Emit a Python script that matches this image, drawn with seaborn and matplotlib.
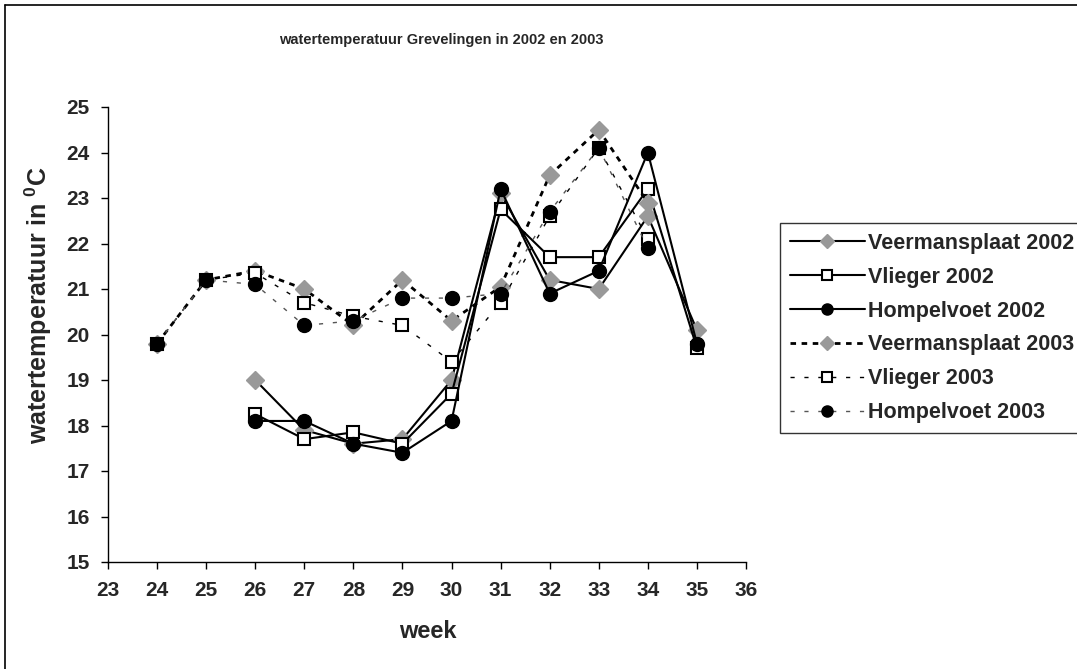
import numpy as np
import pandas as pd
import matplotlib
matplotlib.use("Agg")
import matplotlib.pyplot as plt
from matplotlib.lines import Line2D
from matplotlib import font_manager
import seaborn as sns

# ---- data ----
weeks_2002 = [26, 27, 28, 29, 30, 31, 32, 33, 34, 35]
veermans_2002 = [19.0, 17.9, 17.6, 17.7, 19.0, 23.1, 21.2, 21.0, 22.6, 20.1]
vlieger_2002 = [18.25, 17.7, 17.85, 17.6, 18.7, 22.75, 21.7, 21.7, 23.2, 19.7]
hompelvoet_2002 = [18.1, 18.1, 17.6, 17.4, 18.1, 23.2, 20.9, 21.4, 24.0, 19.8]

weeks_2003 = [24, 25, 26, 27, 28, 29, 30, 31, 32, 33, 34]
veermans_2003 = [19.8, 21.2, 21.4, 21.0, 20.2, 21.2, 20.3, 21.05, 23.5, 24.5, 22.9]
vlieger_2003 = [19.8, 21.2, 21.35, 20.7, 20.4, 20.2, 19.4, 20.7, 22.6, 24.1, 22.1]
hompelvoet_2003 = [19.8, 21.2, 21.1, 20.2, 20.3, 20.8, 20.8, 20.9, 22.7, 24.1, 21.9]

series_names = ["Veermansplaat 2002", "Vlieger 2002", "Hompelvoet 2002",
                "Veermansplaat 2003", "Vlieger 2003", "Hompelvoet 2003"]
x_ticks = list(range(23, 37))
y_ticks = list(range(15, 26))

title = "watertemperatuur Grevelingen in 2002 en 2003"
xlabel = "week"
ylabel = "watertemperatuur in $^{0}$C"

# ---- style ----
sns.set_style("white")
plt.rcParams['font.family'] = ['Liberation Sans', 'DejaVu Sans']
plt.rcParams['font.weight'] = 'bold'
plt.rcParams['mathtext.fontset'] = 'custom'
plt.rcParams['mathtext.rm'] = 'Liberation Sans:bold'
plt.rcParams['mathtext.it'] = 'Liberation Sans:bold'
plt.rcParams['mathtext.bf'] = 'Liberation Sans:bold'

installed = {f.name for f in font_manager.fontManager.ttflist}
if 'Liberation Sans Narrow' in installed:
    title_family, title_size = ['Liberation Sans Narrow', 'Liberation Sans'], 13
else:
    title_family, title_size = ['Liberation Sans', 'DejaVu Sans'], 10.5

W, H = 1077, 669
fig = plt.figure(figsize=(W / 100, H / 100), dpi=100)
ax = fig.add_axes([108 / W, 1 - 562 / H, (746 - 108) / W, (562 - 107) / H])

grey = '#999999'
styles = [
    dict(marker='D', ms=9, color='black', mfc=grey, mec=grey, ls='-', lw=1.5),
    dict(marker='s', ms=8.5, color='black', mfc='white', mec='black', mew=1.5, ls='-', lw=1.5),
    dict(marker='o', ms=10, color='black', mfc='black', mec='black', ls='-', lw=1.5),
    dict(marker='D', ms=9, color='black', mfc=grey, mec=grey, ls=(0, (2, 2)), lw=2),
    dict(marker='s', ms=8.5, color='black', mfc='white', mec='black', mew=1.5, ls=(0, (3, 7)), lw=1),
    dict(marker='o', ms=10, color='#555555', mfc='black', mec='black', ls=(0, (3, 7)), lw=1),
]
data = [
    (weeks_2002, veermans_2002), (weeks_2002, vlieger_2002), (weeks_2002, hompelvoet_2002),
    (weeks_2003, veermans_2003), (weeks_2003, vlieger_2003), (weeks_2003, hompelvoet_2003),
]

order = [3, 4, 5, 0, 1, 2]
handles = {}
for i in order:
    xs, ys = data[i]
    df = pd.DataFrame({"week": xs, "temp": ys})
    st = styles[i]
    sns.lineplot(data=df, x="week", y="temp", ax=ax, errorbar=None, sort=False,
                 marker=st['marker'], markersize=st['ms'], color=st['color'],
                 markerfacecolor=st['mfc'], markeredgecolor=st['mec'],
                 markeredgewidth=st.get('mew', 1.0), linestyle=st['ls'],
                 linewidth=st['lw'], zorder=3 + i)
    handles[i] = ax.lines[-1]

ax.set_xlim(23, 36)
ax.set_ylim(15, 25)
ax.set_xticks(x_ticks)
ax.set_yticks(y_ticks)
ax.tick_params(axis='both', which='major', labelsize=15, direction='out',
               length=5, width=1, color='black', left=True, bottom=True)
ax.tick_params(axis='x', pad=9)
ax.tick_params(axis='y', pad=8)
for lbl in ax.get_xticklabels() + ax.get_yticklabels():
    lbl.set_fontweight('bold')
ax.set_xlabel("")
ax.set_ylabel("")
for s in ['top', 'right']:
    ax.spines[s].set_visible(False)
for s in ['left', 'bottom']:
    ax.spines[s].set_color('black')
    ax.spines[s].set_linewidth(1)

fig.text(441 / W, 1 - 40 / H, title, ha='center', va='center', fontsize=title_size,
         fontweight='bold', family=title_family)
fig.text(428 / W, 1 - 632 / H, xlabel, ha='center', va='center', fontsize=17, fontweight='bold')
fig.text(38 / W, 1 - 305 / H, ylabel, ha='center', va='center', rotation=90,
         fontsize=18, fontweight='bold')

leg = fig.legend([handles[i] for i in range(6)], series_names,
                 loc='upper left', bbox_to_anchor=(780 / W, 1 - 223 / H),
                 frameon=True, fancybox=False, fontsize=15.5, handlelength=3.5,
                 handletextpad=0.12, labelspacing=0.6, borderpad=0.45,
                 borderaxespad=0, markerscale=0.8)
leg.get_frame().set_edgecolor('black')
leg.get_frame().set_linewidth(1)
for t in leg.get_texts():
    t.set_fontweight('bold')

# outer chart frame
fig.add_artist(Line2D([5 / W, 5 / W], [1 - 5 / H, 0], color='black', lw=1.2, transform=fig.transFigure))
fig.add_artist(Line2D([5 / W, 1], [1 - 5 / H, 1 - 5 / H], color='black', lw=1.2, transform=fig.transFigure))

fig.savefig("out.png", dpi=100)
